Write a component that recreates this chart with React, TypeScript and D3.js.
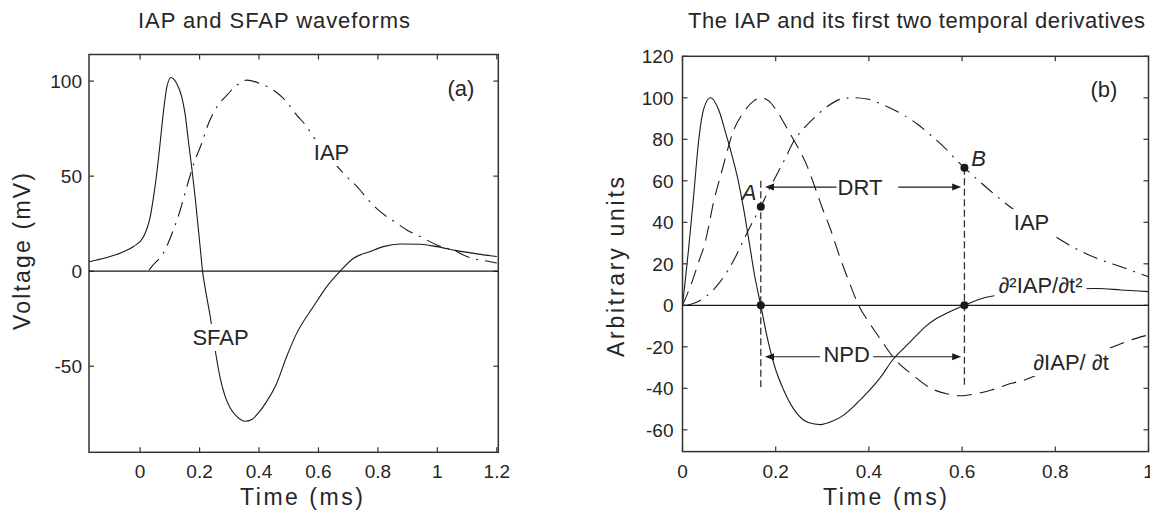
import React, { useEffect, useRef } from 'react';
import * as d3 from 'd3';

const FONT = '"Liberation Sans", Arial, Helvetica, sans-serif';
const INK = '#1a1a1a';
const TXT = '#262626';

// ---------------- Panel (a): IAP and SFAP waveforms ----------------
const titleA = 'IAP and SFAP waveforms';
const xLabelA = 'Time  (ms)';
const yLabelA = 'Voltage  (mV)';
const xTicksA = [0, 0.2, 0.4, 0.6, 0.8, 1, 1.2];
const yTicksA = [-50, 0, 50, 100];
const xDomainA: [number, number] = [-0.172, 1.205];
const yDomainA: [number, number] = [-95.3, 114];

// SFAP (solid) [time ms, mV]
const sfapA: [number, number][] = [
  [-0.172, 5], [-0.146, 5.9], [-0.101, 7.7], [-0.06, 10], [-0.022, 13], [0.011, 18],
  [0.034, 28.7], [0.045, 39], [0.056, 51.5], [0.067, 67], [0.079, 84.7], [0.09, 97],
  [0.104, 101.9], [0.123, 98.7], [0.14, 91.7], [0.151, 83], [0.162, 69], [0.174, 54],
  [0.185, 39], [0.196, 22], [0.203, 11], [0.21, 0], [0.22, -10], [0.236, -24],
  [0.253, -42], [0.269, -56], [0.286, -65.9], [0.303, -72], [0.325, -76.4], [0.353, -79],
  [0.376, -78], [0.398, -74.6], [0.426, -68.5], [0.46, -58.8], [0.493, -44.9], [0.527, -32.6],
  [0.583, -18.6], [0.628, -8.1], [0.673, 0], [0.718, 6.8], [0.774, 10.3], [0.818, 12.9],
  [0.875, 14.3], [0.942, 14.2], [0.998, 12.9], [1.065, 10.8], [1.133, 9.1], [1.2, 7.7],
];

// IAP (dash-dot) [time ms, mV]
const iapA: [number, number][] = [
  [0.03, 0.5], [0.039, 2.4], [0.078, 9.5], [0.112, 21.7], [0.135, 32.2], [0.157, 44.4],
  [0.185, 58.5], [0.207, 67.2], [0.23, 77.7], [0.258, 86.4], [0.292, 92.6], [0.325, 97.8],
  [0.359, 100.5], [0.404, 98.7], [0.449, 95.2], [0.482, 90.9], [0.527, 82.1], [0.561, 75.9],
  [0.583, 70.7], [0.63, 61.5], [0.684, 51.5], [0.74, 42.7], [0.763, 38.3], [0.808, 31.3],
  [0.864, 25.2], [0.897, 21.7], [0.942, 18.2], [0.998, 13.8], [1.065, 10.3], [1.099, 7.7],
  [1.178, 5], [1.2, 4.3],
];

// ---------------- Panel (b): IAP and its derivatives ----------------
const titleB = 'The IAP and its first two temporal derivatives';
const xLabelB = 'Time  (ms)';
const yLabelB = 'Arbitrary  units';
const xTicksB = [0, 0.2, 0.4, 0.6, 0.8, 1];
const yTicksB = [-60, -40, -20, 0, 20, 40, 60, 80, 100, 120];
const xDomainB: [number, number] = [0, 1];
const yDomainB: [number, number] = [-70.5, 120];

// second derivative (solid)
const d2IapB: [number, number][] = [
  [0, 0], [0.005, 10], [0.013, 27], [0.024, 53], [0.035, 80], [0.046, 95], [0.06, 100],
  [0.078, 94], [0.092, 83.6], [0.106, 72.4], [0.12, 59.6], [0.131, 46.7], [0.142, 32],
  [0.155, 14], [0.168, 0], [0.18, -13.6], [0.198, -29.6], [0.217, -40.8], [0.245, -52],
  [0.27, -56.5], [0.296, -57.5], [0.32, -56], [0.346, -52.9], [0.374, -47.3], [0.395, -42.5],
  [0.424, -35], [0.452, -26], [0.48, -19.5], [0.502, -14.5], [0.52, -10.5], [0.545, -6.4],
  [0.57, -3.5], [0.605, 0], [0.641, 3.2], [0.7, 5.6], [0.8, 7.6], [0.891, 8.1], [0.941, 7.4],
  [1.0, 6.6],
];

// first derivative (dashed)
const d1IapB: [number, number][] = [
  [0, 0], [0.019, 10.4], [0.036, 21.8], [0.047, 29], [0.067, 50], [0.085, 65.2], [0.11, 84.5],
  [0.131, 93], [0.153, 98.5], [0.167, 100], [0.185, 98.5], [0.199, 94.8], [0.229, 83.4],
  [0.247, 76.4], [0.267, 67.3], [0.285, 56.4], [0.299, 47.5], [0.317, 37], [0.338, 23],
  [0.358, 11], [0.378, 0], [0.402, -8.8], [0.426, -16.7], [0.454, -25.5], [0.494, -33.6],
  [0.533, -40], [0.569, -42.7], [0.597, -43.6], [0.627, -42.7], [0.663, -40.8], [0.706, -37.6],
  [0.734, -36], [0.8, -29.5], [0.87, -24.5], [0.934, -19.1], [0.962, -16.7], [1.0, -14.3],
];

// IAP (dash-dot)
const iapB: [number, number][] = [
  [0.01, 0], [0.03, 1.5], [0.049, 4], [0.081, 11.4], [0.113, 23], [0.13, 31], [0.149, 39.5],
  [0.168, 47.5], [0.185, 55.5], [0.2, 62], [0.221, 71], [0.238, 78.8], [0.26, 85.2],
  [0.285, 90.9], [0.31, 95.7], [0.346, 99.7], [0.368, 100], [0.396, 99.4], [0.432, 96.5],
  [0.474, 91.7], [0.506, 87], [0.531, 82.3], [0.56, 76.5], [0.588, 70], [0.605, 66.3],
  [0.638, 59.6], [0.68, 51.5], [0.74, 41.5], [0.806, 32.3], [0.842, 27.5], [0.899, 21.8],
  [0.941, 18.6], [0.97, 16.2], [1.0, 13.8],
];

// annotation points (time, value)
const markerPts: [number, number][] = [[0.168, 47.5], [0.605, 66.3], [0.168, 0], [0.605, 0]];
const vLines: [number, number, number][] = [[0.168, 60, -39.4], [0.605, 66.3, -39.4]]; // t, top, bottom
const arrows: [number, number, number][] = [
  // fromT, toT, value
  [0.3305, 0.177, 57], [0.4631, 0.598, 57], [0.295, 0.177, -24.8], [0.4094, 0.598, -24.8],
];

type Sel = d3.Selection<SVGGElement, unknown, null, undefined>;

function drawAxes(
  g: Sel,
  x: d3.ScaleLinear<number, number>,
  y: d3.ScaleLinear<number, number>,
  xTicks: number[],
  yTicks: number[],
  yLabOff: number,
) {
  const [x0, x1] = x.range();
  const [yb, yt] = y.range();
  const tl = 5;
  xTicks.forEach((t) => {
    const px = x(t);
    g.append('line').attr('x1', px).attr('x2', px).attr('y1', yb).attr('y2', yb - tl).attr('stroke', '#333').attr('stroke-width', 1.2);
    g.append('line').attr('x1', px).attr('x2', px).attr('y1', yt).attr('y2', yt + tl).attr('stroke', '#333').attr('stroke-width', 1.2);
    g.append('text').attr('x', px).attr('y', 478).attr('text-anchor', 'middle')
      .attr('font-size', 19).attr('fill', TXT).text(d3.format('~g')(t));
  });
  yTicks.forEach((v) => {
    const py = y(v);
    g.append('line').attr('x1', x0).attr('x2', x0 + tl).attr('y1', py).attr('y2', py).attr('stroke', '#333').attr('stroke-width', 1.2);
    g.append('line').attr('x1', x1).attr('x2', x1 - tl).attr('y1', py).attr('y2', py).attr('stroke', '#333').attr('stroke-width', 1.2);
    g.append('text').attr('x', x0 - yLabOff).attr('y', py + 7).attr('text-anchor', 'end')
      .attr('font-size', 19).attr('fill', TXT).text(String(v));
  });
  g.append('rect').attr('x', x0).attr('y', yt).attr('width', x1 - x0).attr('height', yb - yt)
    .attr('fill', 'none').attr('stroke', '#333').attr('stroke-width', 1.5);
  g.append('line').attr('x1', x0).attr('x2', x1).attr('y1', y(0)).attr('y2', y(0))
    .attr('stroke', INK).attr('stroke-width', 1.2);
}

function curve(
  g: Sel,
  data: [number, number][],
  x: d3.ScaleLinear<number, number>,
  y: d3.ScaleLinear<number, number>,
  dash: string | null,
) {
  const line = d3.line<[number, number]>().x((d) => x(d[0])).y((d) => y(d[1])).curve(d3.curveMonotoneX);
  const p = g.append('path').attr('d', line(data) as string).attr('fill', 'none')
    .attr('stroke', INK).attr('stroke-width', 1.1);
  if (dash) p.attr('stroke-dasharray', dash);
}

function label(g: Sel, cx: number, baseline: number, txt: string, bg: boolean, italic = false, size = 22) {
  const grp = g.append('g');
  const t = grp.append('text').attr('x', cx).attr('y', baseline).attr('text-anchor', 'middle')
    .attr('font-size', size).attr('fill', TXT).text(txt);
  if (italic) t.attr('font-style', 'italic');
  if (bg) {
    const bb = (t.node() as SVGTextElement).getBBox();
    grp.insert('rect', 'text').attr('x', bb.x - 4).attr('y', bb.y - 1).attr('width', bb.width + 8)
      .attr('height', bb.height + 2).attr('fill', '#fff');
  }
}

function arrow(g: Sel, x1: number, x2: number, yy: number) {
  const dir = Math.sign(x2 - x1);
  g.append('line').attr('x1', x1).attr('x2', x2 - dir * 6).attr('y1', yy).attr('y2', yy)
    .attr('stroke', INK).attr('stroke-width', 1.2);
  g.append('path').attr('d', `M${x2},${yy} L${x2 - dir * 9},${yy - 3.5} L${x2 - dir * 9},${yy + 3.5} Z`).attr('fill', INK);
}

function draw(svgEl: SVGSVGElement) {
  const svg = d3.select(svgEl);
  svg.selectAll('*').remove();
  const root = svg.append('g') as unknown as Sel;

  // ---------- Panel (a) ----------
  const xa = d3.scaleLinear().domain(xDomainA).range([89, 498.3]);
  const ya = d3.scaleLinear().domain(yDomainA).range([452.3, 54.5]);
  const ga = root.append('g');
  curve(ga, sfapA, xa, ya, null);
  curve(ga, iapA, xa, ya, '15,7,2,7');
  drawAxes(ga, xa, ya, xTicksA, yTicksA, 7);
  label(ga, 331.5, 160, 'IAP', true);
  label(ga, 220.5, 345, 'SFAP', true);
  label(ga, 461, 96, '(a)', false);
  ga.append('text').attr('x', 138).attr('y', 28).attr('font-size', 22).attr('fill', TXT)
    .attr('textLength', 272).attr('lengthAdjust', 'spacing').text(titleA);
  ga.append('text').attr('x', 240).attr('y', 505).attr('font-size', 23).attr('fill', TXT)
    .attr('textLength', 123).attr('lengthAdjust', 'spacing').text(xLabelA);
  ga.append('text').attr('transform', 'translate(30,330) rotate(-90)').attr('font-size', 23).attr('fill', TXT)
    .attr('textLength', 157).attr('lengthAdjust', 'spacing').text(yLabelA);

  // ---------- Panel (b) ----------
  const xb = d3.scaleLinear().domain(xDomainB).range([682.5, 1148.5]);
  const yb = d3.scaleLinear().domain(yDomainB).range([451.6, 56.3]);
  const gb = root.append('g');
  curve(gb, d2IapB, xb, yb, null);
  curve(gb, d1IapB, xb, yb, '15,8');
  curve(gb, iapB, xb, yb, '15,7,2,7');
  drawAxes(gb, xb, yb, xTicksB, yTicksB, 9);

  vLines.forEach(([t, top, bot]) => {
    gb.append('line').attr('x1', xb(t)).attr('x2', xb(t)).attr('y1', yb(top)).attr('y2', yb(bot))
      .attr('stroke', '#333').attr('stroke-width', 1.3).attr('stroke-dasharray', '7,3.5');
  });

  label(gb, 1031.5, 230, 'IAP', true);
  label(gb, 1040.5, 293, '\u2202\u00B2IAP/\u2202t\u00B2', true);
  label(gb, 1071, 370, '\u2202IAP/ \u2202t', true);
  label(gb, 860, 194.5, 'DRT', false);
  label(gb, 846.7, 362, 'NPD', false);
  label(gb, 749, 200, 'A', false, true);
  label(gb, 978.5, 165.5, 'B', false, true);
  label(gb, 1104, 97, '(b)', false);

  arrows.forEach(([f, tt, v]) => arrow(gb, xb(f), xb(tt), yb(v)));

  markerPts.forEach(([t, v]) => {
    gb.append('circle').attr('cx', xb(t)).attr('cy', yb(v)).attr('r', 4).attr('fill', INK);
  });

  gb.append('text').attr('x', 688).attr('y', 28).attr('font-size', 22).attr('fill', TXT)
    .attr('textLength', 457).attr('lengthAdjust', 'spacing').text(titleB);
  gb.append('text').attr('x', 823).attr('y', 505).attr('font-size', 23).attr('fill', TXT)
    .attr('textLength', 124).attr('lengthAdjust', 'spacing').text(xLabelB);
  gb.append('text').attr('transform', 'translate(624,357) rotate(-90)').attr('font-size', 23).attr('fill', TXT)
    .attr('textLength', 180).attr('lengthAdjust', 'spacing').text(yLabelB);
}

export default function App() {
  const ref = useRef<SVGSVGElement>(null);
  useEffect(() => {
    if (ref.current) draw(ref.current);
  }, []);
  return (
    <svg
      ref={ref}
      width={1150}
      height={510}
      style={{ position: 'absolute', left: 0, top: 0, background: '#fff', fontFamily: FONT }}
    />
  );
}
